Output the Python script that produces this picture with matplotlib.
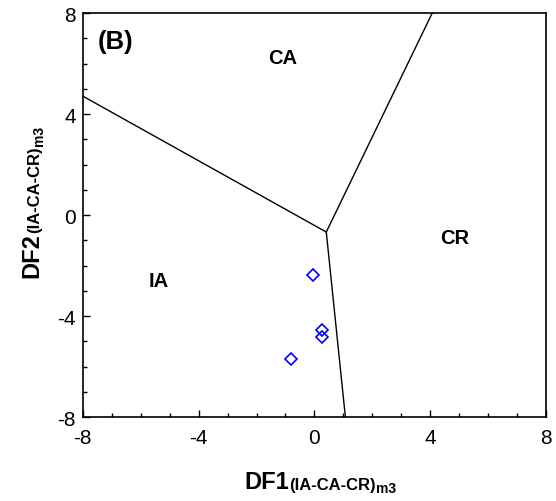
import matplotlib
matplotlib.use("Agg")
import matplotlib.pyplot as plt
from matplotlib.ticker import MultipleLocator

plt.rcParams['font.family'] = ['Liberation Sans', 'DejaVu Sans']
plt.rcParams['axes.unicode_minus'] = False

# Discriminant-function field boundaries (triple junction and the three rays)
junction = (0.41, -0.67)
boundary_ends = [(-8.0, 4.71), (4.07, 8.0), (1.07, -8.0)]

# Samples plotted in DF1-DF2 space
df1 = [-0.06, 0.26, 0.25, -0.82]
df2 = [-2.36, -4.55, -4.82, -5.70]

# Field names and their anchor positions
field_names = ['CA', 'CR', 'IA']
field_x = [-1.09, 4.86, -5.38]
field_y = [6.23, -0.87, -2.57]

ticks = [-8, -4, 0, 4, 8]

fig = plt.figure(figsize=(5.56, 5.02), dpi=100)
ax = fig.add_axes([0.149, 0.167, 0.833, 0.805])

for xe, ye in boundary_ends:
    ax.plot([junction[0], xe], [junction[1], ye], color='black', lw=1.0)

ax.plot(df1, df2, linestyle='none', marker='D', ms=6.2, mfc='none',
        mec=(0, 0, 1), mew=1.2)

for name, x, y in zip(field_names, field_x, field_y):
    ax.text(x, y, name, fontsize=14.5, fontweight='bold', ha='center', va='center')

ax.text(-6.86, 6.91, '(B)', fontsize=18.5, fontweight='bold', ha='center', va='center')

ax.set_xlim(-8, 8)
ax.set_ylim(-8, 8)
ax.set_xticks(ticks)
ax.set_yticks(ticks)
ax.xaxis.set_minor_locator(MultipleLocator(1))
ax.yaxis.set_minor_locator(MultipleLocator(1))
ax.tick_params(which='both', direction='in', top=False, right=False, labelsize=15, width=1.0)
ax.tick_params(which='major', length=5)
ax.tick_params(which='minor', length=3)
ax.tick_params(axis='x', pad=8)
ax.tick_params(axis='y', pad=5)
for s in ax.spines.values():
    s.set_linewidth(1.2)


def compound_label(parts, x0, y0, rotation=0):
    """Draw text pieces side by side, each with its own size and baseline drop (px)."""
    fig.canvas.draw()
    renderer = fig.canvas.get_renderer()
    W, H = fig.bbox.width, fig.bbox.height
    artists = []
    for txt, size, drop in parts:
        t = fig.text(0, 0, txt, fontsize=size, fontweight='bold',
                     rotation=rotation, ha='left', va='baseline',
                     rotation_mode='anchor')
        artists.append((t, drop))
    widths = []
    for t, drop in artists:
        bb = t.get_window_extent(renderer)
        widths.append(bb.width if rotation == 0 else bb.height)
    total = sum(widths)
    pos = -total / 2
    for (t, drop), w in zip(artists, widths):
        if rotation == 0:
            t.set_position(((x0 + pos) / W, (y0 - drop) / H))
        else:
            t.set_position(((x0 + drop) / W, (y0 + pos) / H))
        pos += w


label_parts_x = [('DF1', 17, 0), ('(IA-CA-CR)', 12, 1), ('m3', 10, 4.5)]
label_parts_y = [('DF2', 17, 0), ('(IA-CA-CR)', 12, 1), ('m3', 10, 4.5)]

# centres in pixel coordinates (origin at bottom-left)
compound_label(label_parts_x, 320, 502 - 489)
compound_label(label_parts_y, 38, 502 - 202, rotation=90)

fig.savefig('out.png', dpi=100)
